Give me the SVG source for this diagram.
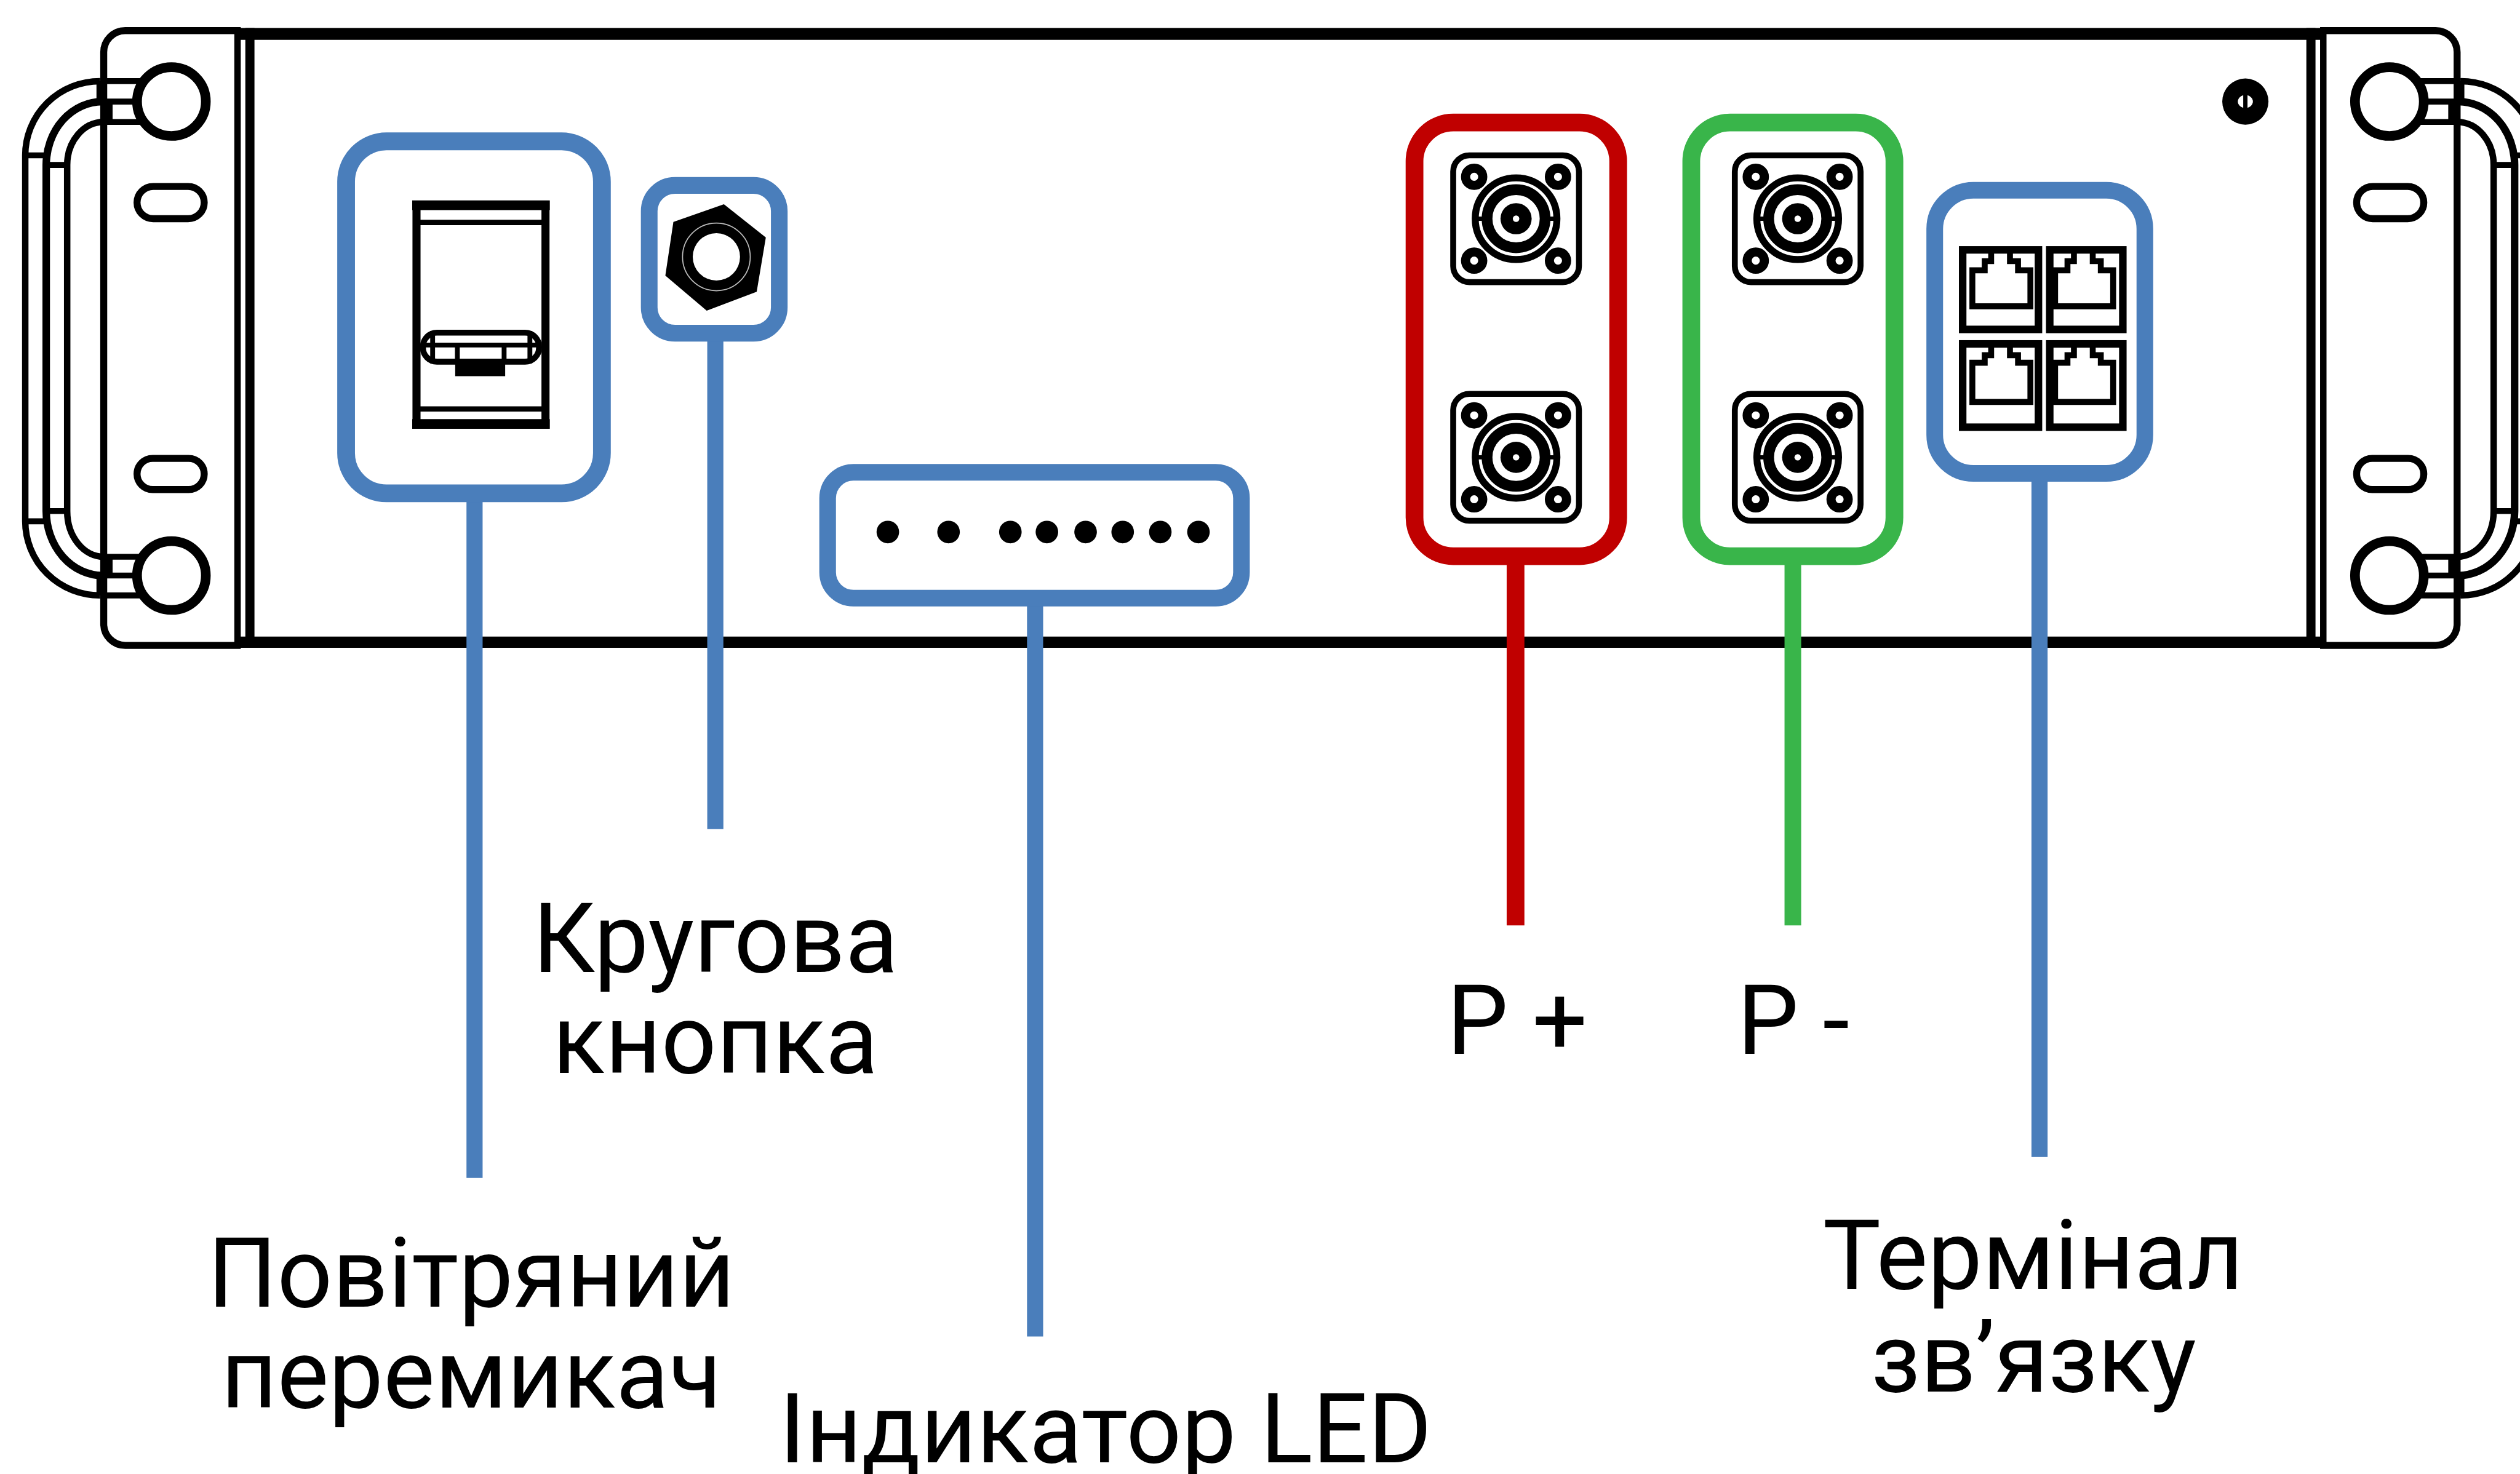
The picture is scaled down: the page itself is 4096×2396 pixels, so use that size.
<svg xmlns="http://www.w3.org/2000/svg" width="4096" height="2396" viewBox="0 0 4096 2396">
<style>
.k{fill:none;stroke:#000}
.w{fill:#fff;stroke:#000}
.b{fill:none;stroke:#4a7ebb;stroke-width:31}
.r{fill:none;stroke:#c00000;stroke-width:33}
.g{fill:none;stroke:#39b54a;stroke-width:33}
.t{font-family:Roboto,"Noto Sans",sans-serif;font-size:181px;fill:#000;text-anchor:middle}
</style>
<defs>
<g id="ear">
<path class="k" stroke-width="13" d="M448 57H233A40 40 0 0 0 193 97V1161A40 40 0 0 0 233 1201H448"/>
<path class="k" stroke-width="12" d="M186 151A139 138 0 0 0 47 289V970A139 138 0 0 0 186 1108"/>
<path class="k" stroke-width="14" d="M191 189A105 118 0 0 0 86 307V951A105 120 0 0 0 191 1071"/>
<path class="k" stroke-width="12" d="M193 227A68 80 0 0 0 125 307V951A68 85 0 0 0 193 1036"/>
<path class="k" stroke-width="11" d="M47 289H86M86 307H125M47 970H86M86 951H125M186 151H262M186 189H262M193 227H262M193 1036H262M186 1071H262M186 1108H262"/>
<path class="k" stroke-width="13" d="M186 151V189M203 189V227M203 1036V1071M186 1071V1108"/>
<circle class="w" stroke-width="18" cx="319" cy="189" r="64"/>
<circle class="w" stroke-width="18" cx="319" cy="1071" r="64"/>
<rect class="k" stroke-width="13" x="255" y="347" width="125" height="60" rx="30"/>
<rect class="k" stroke-width="13" x="255" y="853" width="125" height="58" rx="29"/>
<path class="k" stroke-width="12" d="M442 52V1205"/>
<path class="k" stroke-width="17" d="M465 52V1205"/>
</g>
<g id="conn">
<rect class="k" stroke-width="11" x="-117" y="-118" width="234" height="236" rx="30"/>
<g class="k" stroke-width="17">
<circle cx="-78" cy="-78" r="16"/><circle cx="78" cy="-78" r="16"/><circle cx="-78" cy="78" r="16"/><circle cx="78" cy="78" r="16"/>
</g>
<circle class="k" stroke-width="13" r="76"/>
<circle class="k" stroke-width="20" r="54"/>
<circle r="29" fill="#000"/>
<circle r="6" fill="#fff"/>
<path class="k" stroke-width="8" d="M-76 0H-60M60 0H76"/>
</g>
<path id="plugT" class="k" stroke-width="11" d="M60 6V28H48V45H25V112H133V45H110V28H95V6"/>
<path id="plugB" class="k" stroke-width="11" d="M60 6V28H48V42H25V115H133V42H110V28H95V6"/>
</defs>
<rect width="4096" height="2396" fill="#fff"/>
<g transform="scale(0.87353)">
<g id="chassis">
<use href="#ear"/>
<use href="#ear" transform="translate(4765 0) scale(-1 1)"/>
<path class="k" stroke-width="22" d="M442 63H4323"/>
<path class="k" stroke-width="21" d="M442 1195H4323"/>
<circle cx="4178" cy="189" r="43" fill="#000"/>
<ellipse cx="4178" cy="189" rx="14" ry="12" fill="#fff"/>
<rect x="4174" y="175" width="8" height="28" fill="#000"/>
</g>
<g id="connectors">
<path class="b" d="M883 930V2192M1331 632V1543M1926 1125V2487M3795 890V2153" style="stroke-width:30"/>
<path class="r" d="M2820 1045V1722"/>
<path class="g" d="M3336 1045V1722" style="stroke-width:31"/>
</g>
<g id="air-switch">
<rect class="b" x="644" y="263" width="476" height="655" rx="75" style="stroke-width:33"/>
<rect class="k" stroke-width="15" x="775" y="381" width="240" height="409"/>
<path class="k" stroke-width="18" d="M767 382H1023M767 789H1023"/>
<path class="k" stroke-width="10" d="M775 414H1015M775 761H1015"/>
<rect class="w" stroke-width="11" x="787" y="619" width="216" height="54" rx="26"/>
<path class="k" stroke-width="9" d="M787 642H1003"/>
<path class="k" stroke-width="9" d="M805 616V676M986 616V676M851 642V676M938 642V676"/>
<rect x="847" y="672" width="93" height="28" fill="#000"/>
</g>
<g id="round-button">
<rect class="b" x="1208" y="345" width="242" height="275" rx="48"/>
<polygon points="1347,380 1425,442 1408,543 1315,578 1238,513 1253,413" fill="#000"/>
<circle cx="1333" cy="478" r="44" fill="#fff"/>
<circle cx="1333" cy="478" r="63" fill="none" stroke="#bbb" stroke-width="2"/>
</g>
<g id="led-indicator">
<rect class="b" x="1540" y="879" width="770" height="234" rx="48"/>
<g fill="#000">
<circle cx="1652" cy="990" r="21"/><circle cx="1765" cy="990" r="21"/><circle cx="1880" cy="990" r="21"/><circle cx="1948" cy="990" r="21"/><circle cx="2020" cy="990" r="21"/><circle cx="2089" cy="990" r="21"/><circle cx="2159" cy="990" r="21"/><circle cx="2230" cy="990" r="21"/>
</g>
</g>
<g id="p-plus">
<rect class="r" x="2632" y="228" width="379" height="807" rx="72"/>
<use href="#conn" x="2821" y="407"/>
<use href="#conn" x="2821" y="851"/>
</g>
<g id="p-minus">
<rect class="g" x="3147" y="228" width="378" height="807" rx="72"/>
<use href="#conn" x="3345" y="407"/>
<use href="#conn" x="3345" y="851"/>
</g>
<g id="comm-terminal">
<rect class="b" x="3600" y="354" width="391" height="527" rx="72"/>
<g class="k" stroke-width="14">
<rect x="3652" y="465" width="141" height="148"/>
<rect x="3814" y="465" width="136" height="148"/>
<rect x="3652" y="640" width="141" height="155"/>
<rect x="3814" y="640" width="136" height="155"/>
</g>
<use href="#plugT" x="3645" y="458"/>
<use href="#plugT" x="3799" y="458"/>
<use href="#plugB" x="3645" y="633"/>
<use href="#plugB" x="3799" y="633"/>
</g>
<g id="labels">
<text class="t" x="1331" y="1809">Кругова</text>
<text class="t" x="1331" y="1997">кнопка</text>
<text class="t" x="877" y="2431">Повітряний</text>
<text class="t" x="877" y="2619">перемикач</text>
<text class="t" x="2057" y="2721">Індикатор LED</text>
<text class="t" x="2823" y="1961">P +</text>
<text class="t" x="3337" y="1961">P -</text>
<text class="t" x="3783" y="2398">Термінал</text>
<text class="t" x="3784" y="2590">зв’язку</text>
</g>
</g>
</svg>
